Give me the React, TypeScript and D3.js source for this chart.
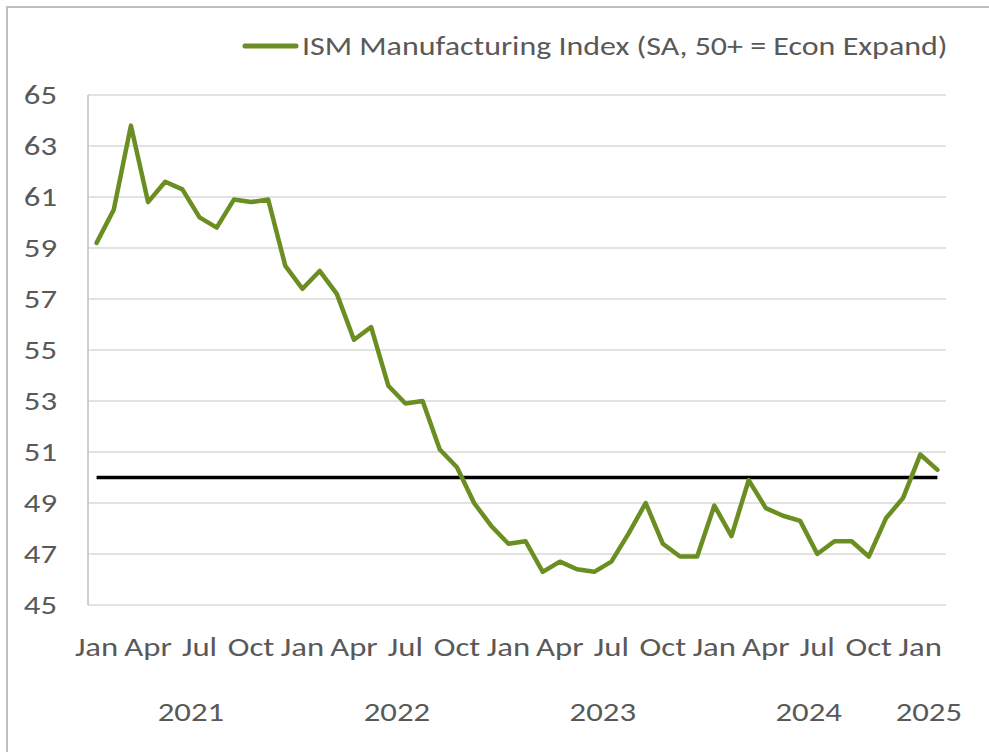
import React, { useRef, useEffect } from 'react';
import * as d3 from 'd3';

// ISM Manufacturing Index, monthly Jan 2021 - Feb 2025
const years = ['2021', '2022', '2023', '2024', '2025'];
const monthNames = ['Jan', 'Feb', 'Mar', 'Apr', 'May', 'Jun', 'Jul', 'Aug', 'Sep', 'Oct', 'Nov', 'Dec'];
const ismValues = [
  59.2, 60.5, 63.8, 60.8, 61.6, 61.3, 60.2, 59.8, 60.9, 60.8, 60.9, 58.3,
  57.4, 58.1, 57.2, 55.4, 55.9, 53.6, 52.9, 53.0, 51.1, 50.4, 49.0, 48.1,
  47.4, 47.5, 46.3, 46.7, 46.4, 46.3, 46.7, 47.8, 49.0, 47.4, 46.9, 46.9,
  48.9, 47.7, 49.9, 48.8, 48.5, 48.3, 47.0, 47.5, 47.5, 46.9, 48.4, 49.2,
  50.9, 50.3,
];
const threshold = 50;
const yTicks = [45, 47, 49, 51, 53, 55, 57, 59, 61, 63, 65];
const shownMonths = ['Jan', 'Apr', 'Jul', 'Oct'];
const legendLabel = 'ISM Manufacturing Index (SA, 50+ = Econ Expand)';

const App = () => {
  const svgRef = useRef<SVGSVGElement>(null);
  const width = 989;
  const height = 752;

  useEffect(() => {
    document.body.style.margin = '0';
    const svg = d3.select(svgRef.current);
    svg.selectAll('*').remove();

    const font = "Carlito, 'Liberation Sans Narrow', 'Open Sans', sans-serif";
    const textColor = '#595959';
    const green = '#6B8E23';
    const stretch = 1.26; // the original picture is stretched sideways

    const idx = ismValues.map((_, i) => i);
    const x = d3.scaleBand<number>().domain(idx).range([88, 946]).padding(0);
    const cx = (i: number) => (x(i) as number) + x.bandwidth() / 2;
    const y = d3.scaleLinear().domain([45, 65]).range([605, 95]);

    const place = (px: number, py: number, s = stretch) => `translate(${px},${py}) scale(${s},1)`;

    // outer chart frame (only top and left edges visible)
    svg.append('path')
      .attr('d', `M7,${height} L7,7 L${width},7`)
      .attr('fill', 'none')
      .attr('stroke', '#BFBFBF')
      .attr('stroke-width', 2);

    // gridlines
    svg.append('g')
      .selectAll('line')
      .data(yTicks)
      .join('line')
      .attr('x1', 88)
      .attr('x2', 946)
      .attr('y1', (d) => y(d))
      .attr('y2', (d) => y(d))
      .attr('stroke', '#D9D9D9')
      .attr('stroke-width', 1.5);

    // axis line
    svg.append('line')
      .attr('x1', 88).attr('x2', 88)
      .attr('y1', y(65)).attr('y2', y(45))
      .attr('stroke', '#BFBFBF').attr('stroke-width', 1.5);

    // y labels
    svg.append('g')
      .selectAll('text')
      .data(yTicks)
      .join('text')
      .attr('transform', (d) => place(57, y(d)))
      .attr('dy', '0.35em')
      .attr('text-anchor', 'end')
      .attr('font-family', font)
      .attr('font-size', 26)
      .attr('fill', textColor)
      .text((d) => d);

    // month labels
    const monthIdx = idx.filter((i) => shownMonths.includes(monthNames[i % 12]));
    svg.append('g')
      .selectAll('text')
      .data(monthIdx)
      .join('text')
      .attr('transform', (i) => place(cx(i), 656))
      .attr('text-anchor', 'middle')
      .attr('font-family', font)
      .attr('font-size', 26)
      .attr('fill', textColor)
      .text((i) => monthNames[i % 12]);

    // year labels centred under each year's months
    svg.append('g')
      .selectAll('text')
      .data(years)
      .join('text')
      .attr('transform', (yr, k) => {
        const first = k * 12;
        const last = Math.min(first + 11, ismValues.length - 1);
        const mid = ((x(first) as number) + (x(last) as number) + x.bandwidth()) / 2;
        return place(mid, 721);
      })
      .attr('text-anchor', 'middle')
      .attr('font-family', font)
      .attr('font-size', 26)
      .attr('fill', textColor)
      .text((d) => d);

    // 50 threshold line
    svg.append('line')
      .attr('x1', cx(0))
      .attr('x2', cx(ismValues.length - 1))
      .attr('y1', y(threshold))
      .attr('y2', y(threshold))
      .attr('stroke', '#000')
      .attr('stroke-width', 3.5);

    // ISM series
    const line = d3.line<number>()
      .x((_, i) => cx(i))
      .y((d) => y(d));
    svg.append('path')
      .datum(ismValues)
      .attr('d', line)
      .attr('fill', 'none')
      .attr('stroke', green)
      .attr('stroke-width', 4.5)
      .attr('stroke-linejoin', 'round')
      .attr('stroke-linecap', 'round');

    // legend
    svg.append('line')
      .attr('x1', 245).attr('x2', 296)
      .attr('y1', 46).attr('y2', 46)
      .attr('stroke', green)
      .attr('stroke-width', 5)
      .attr('stroke-linecap', 'round');
    svg.append('text')
      .attr('transform', place(302, 46, 1.23))
      .attr('dy', '0.35em')
      .attr('font-family', font)
      .attr('font-size', 26)
      .attr('fill', textColor)
      .text(legendLabel);
  }, []);

  return (
    <div>
      <svg ref={svgRef} width={width} height={height} style={{ display: 'block', background: '#fff' }}></svg>
    </div>
  );
};

export default App;
